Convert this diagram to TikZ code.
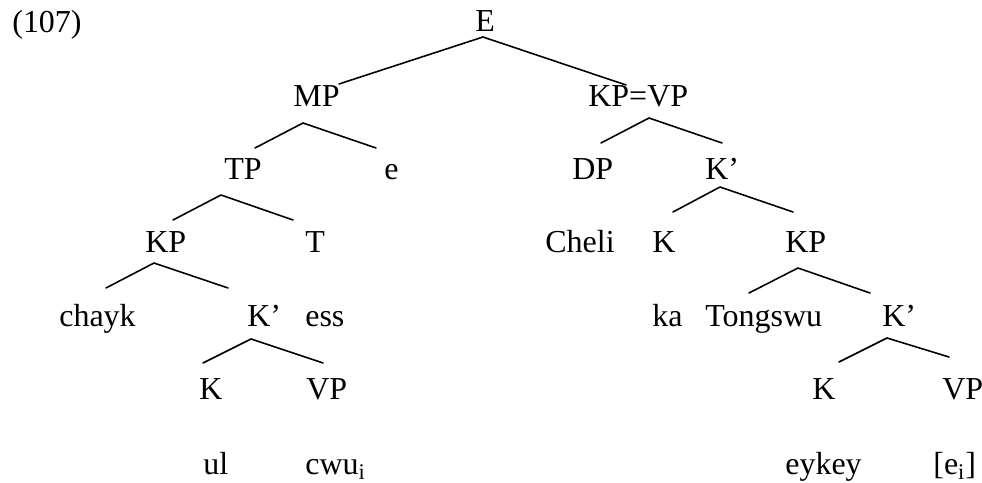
\documentclass[tikz,border=0pt]{standalone}
\usepackage{fontspec}
\setmainfont{Liberation Serif}
\usepackage{tikz}
\usetikzlibrary{positioning}

\begin{document}
\begin{tikzpicture}[x=0.2mm,y=-0.2mm,line cap=round,line join=round,
  font=\fontsize{18.2}{22}\selectfont,
  lab/.style={anchor=base west,inner sep=0pt},
  br/.style={line width=0.9pt}]
\path[use as bounding box] (0,0) rectangle (982,483);
\fill[white] (0,0) rectangle (982,483);
\node[lab] (num) at (12,33) {(107)};
% labels, row by row
\node[lab] (nE) at (475,32) {E};
\node[lab] (nMP) at (293,107) {MP};
\node[lab] (nKPVP) at (588,107) {KP=VP};
\node[lab] (nTP) at (224,180) {TP};
\node[lab] (ne) at (384,180) {e};
\node[lab] (nDP) at (572,180) {DP};
\node[lab] (nKb1) at (705,180) {K’};
\node[lab] (nKP1) at (145,253) {KP};
\node[lab] (nT) at (305,253) {T};
\node[lab] (nCheli) at (545,253) {Cheli};
\node[lab] (nK1) at (652,253) {K};
\node[lab] (nKP2) at (785,253) {KP};
\node[lab] (nchayk) at (59,327) {chayk};
\node[lab] (nKb2) at (247,327) {K’};
\node[lab] (ness) at (305,327) {ess};
\node[lab] (nka) at (652,327) {ka};
\node[lab] (nTongswu) at (705,327) {Tongswu};
\node[lab] (nKb3) at (882,327) {K’};
\node[lab] (nK2) at (199,400) {K};
\node[lab] (nVP1) at (306,400) {VP};
\node[lab] (nK3) at (812,400) {K};
\node[lab] (nVP2) at (942,400) {VP};
\node[lab] (nul) at (203,475) {ul};
\node[lab] (ncwu) at (305,475) {cwu\textsubscript{i}};
\node[lab] (neykey) at (785,475) {eykey};
\node[lab] (nei) at (933,475) {[e\textsubscript{i}]};
% branch tops and feet
\coordinate (aE) at (483,37);
\coordinate (fMP) at (339,84);
\coordinate (fKPVP) at (626,85);
\coordinate (aMP) at (303,123);
\coordinate (fTP) at (255,148);
\coordinate (fe) at (376,148);
\coordinate (aKPVP) at (649,118);
\coordinate (fDP) at (601,143);
\coordinate (fKb1) at (722,143);
\coordinate (aTP) at (221,195);
\coordinate (fKP1) at (173,220);
\coordinate (fT) at (293,220);
\coordinate (aKb1) at (720,187);
\coordinate (fK1) at (673,212);
\coordinate (fKP2) at (793,212);
\coordinate (aKP1) at (154,263);
\coordinate (fchayk) at (106,288);
\coordinate (fKb2) at (228,288);
\coordinate (aKP2) at (798,268);
\coordinate (fTongswu) at (749,293);
\coordinate (fKb3) at (870,293);
\coordinate (aKb2) at (251,339);
\coordinate (fK2) at (203,363);
\coordinate (fVP1) at (323,363);
\coordinate (aKb3) at (887,338);
\coordinate (fK3) at (839,362);
\coordinate (fVP2) at (949,357);
\draw[br] (fMP) -- (aE) -- (fKPVP);
\draw[br] (fTP) -- (aMP) -- (fe);
\draw[br] (fDP) -- (aKPVP) -- (fKb1);
\draw[br] (fKP1) -- (aTP) -- (fT);
\draw[br] (fK1) -- (aKb1) -- (fKP2);
\draw[br] (fchayk) -- (aKP1) -- (fKb2);
\draw[br] (fTongswu) -- (aKP2) -- (fKb3);
\draw[br] (fK2) -- (aKb2) -- (fVP1);
\draw[br] (fK3) -- (aKb3) -- (fVP2);
\end{tikzpicture}
\end{document}
